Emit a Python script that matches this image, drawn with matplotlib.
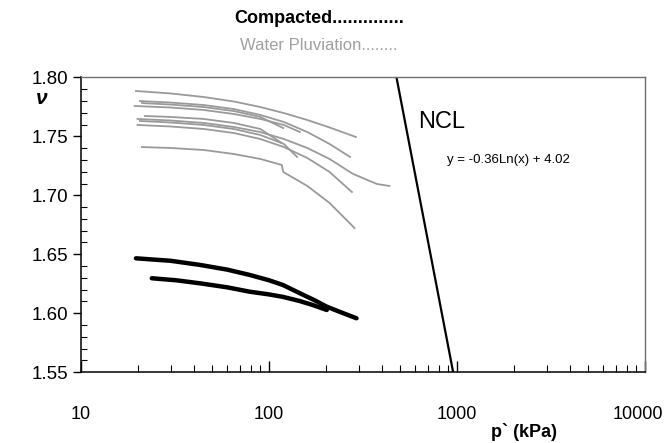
import numpy as np
import matplotlib
matplotlib.use("Agg")
import matplotlib.pyplot as plt
from matplotlib.ticker import FixedLocator, NullFormatter, LogLocator
from matplotlib.transforms import ScaledTranslation

plt.rcParams["font.family"] = ["Liberation Sans", "DejaVu Sans"]

# water-pluviated samples: p' (kPa) and specific volume
pluv_p = [
    [19.6, 30, 45, 65, 90, 120, 160, 210, 280, 290],
    [20.6, 30, 45, 65, 90, 120, 160, 210, 270],
    [19.3, 30, 45, 65, 90, 120, 146],
    [21.1, 30, 45, 65, 90, 119],
    [20, 30, 45, 65, 90, 120, 160, 210, 280, 375, 437],
    [20, 30, 45, 65, 90, 120, 160, 210, 276],
    [20.6, 30, 45, 65, 90, 120, 141],
    [21.9, 30, 45, 65, 90, 117],
    [21.1, 30, 45, 65, 90, 117, 119, 160, 210, 285],
]
pluv_v = [
    [1.7884, 1.7863, 1.7833, 1.7795, 1.7748, 1.7697, 1.7638, 1.7575, 1.7503, 1.7494],
    [1.7799, 1.7786, 1.7765, 1.7731, 1.7681, 1.7621, 1.7536, 1.7435, 1.7325],
    [1.7757, 1.7744, 1.7723, 1.7689, 1.7647, 1.7596, 1.7536],
    [1.7782, 1.7769, 1.7748, 1.7714, 1.7664, 1.7570],
    [1.7647, 1.7634, 1.7613, 1.7579, 1.7536, 1.7477, 1.7401, 1.7308, 1.7181, 1.7096, 1.7079],
    [1.7596, 1.7583, 1.7562, 1.7528, 1.7477, 1.7409, 1.7316, 1.7198, 1.7028],
    [1.7630, 1.7617, 1.7596, 1.7562, 1.7511, 1.7435, 1.7325],
    [1.7672, 1.7664, 1.7647, 1.7613, 1.7562, 1.7443],
    [1.7409, 1.7401, 1.7384, 1.7350, 1.7308, 1.7257, 1.7198, 1.7079, 1.6935, 1.6723],
]

# compacted samples
comp_p = [
    [19.6, 30, 43, 60, 79, 100, 118.6, 146, 175, 203, 240, 292],
    [23.8, 32, 43, 60, 79, 100, 118, 145, 171, 203],
]
comp_v = [
    [1.6466, 1.6445, 1.6410, 1.6370, 1.6325, 1.6280, 1.6240, 1.6170, 1.6110, 1.6056, 1.6010, 1.5958],
    [1.6297, 1.6280, 1.6254, 1.6220, 1.6183, 1.6160, 1.6140, 1.6105, 1.6070, 1.6028],
]

# normal compression line v = a*ln(p) + b
ncl_a, ncl_b = -0.36, 4.02

fig = plt.figure(figsize=(6.67, 4.43), dpi=100)
ax = fig.add_axes([0.1214, 0.1596, 0.8456, 0.6659])

for p, v in zip(pluv_p, pluv_v):
    ax.plot(p, v, color="#9a9a9a", lw=1.3, solid_joinstyle="round")
for p, v in zip(comp_p, comp_v):
    ax.plot(p, v, color="black", lw=3.2, solid_capstyle="round",
            solid_joinstyle="round")

p_ncl = np.logspace(np.log10(400), np.log10(1100), 50)
ax.plot(p_ncl, ncl_a * np.log(p_ncl) + ncl_b, color="black", lw=1.6)

ax.set_xscale("log")
ax.set_xlim(10, 10000)
ax.set_ylim(1.55, 1.80)

yt = np.arange(1.55, 1.801, 0.05)
ax.set_yticks(yt)
ax.set_yticklabels([f"{t:.2f}" for t in yt])
ax.yaxis.set_minor_locator(FixedLocator(np.arange(1.55, 1.80, 0.01)))
ax.tick_params(axis="y", which="major", direction="out", length=6,
               width=1, labelsize=13.5, pad=3, left=True, right=False)
ax.tick_params(axis="y", which="minor", direction="in", length=4,
               width=0.8, left=True, right=False)

ax.set_xticks([10, 100, 1000, 10000])
ax.set_xticklabels(["10", "100", "1000", "10000"])
ax.xaxis.set_minor_locator(LogLocator(base=10, subs=np.arange(2, 10)))
ax.xaxis.set_minor_formatter(NullFormatter())
ax.tick_params(axis="x", which="major", direction="in", length=8,
               width=1, labelsize=13, pad=24, top=False)
ax.tick_params(axis="x", which="minor", direction="in", length=5,
               width=0.8, top=False)
# keep the last label inside the canvas
last = ax.get_xticklabels()[-1]
last.set_transform(last.get_transform()
                   + ScaledTranslation(-5 / 72, 0, fig.dpi_scale_trans))

for s in ("left", "bottom"):
    ax.spines[s].set_color("black")
    ax.spines[s].set_linewidth(1.1)
for s in ("top", "right"):
    ax.spines[s].set_color("#707070")
    ax.spines[s].set_linewidth(1.0)

ax.text(620, 1.762, "NCL", fontsize=17, va="center", ha="left")
ax.text(880, 1.730, "y = -0.36Ln(x) + 4.02", fontsize=9.5,
        va="center", ha="left")

fig.text(0.478, 0.958, "Compacted" + "." * 14, fontsize=13,
         weight="bold", ha="center", va="center")
fig.text(0.478, 0.898, "Water Pluviation" + "." * 8, fontsize=12,
         color="#a0a0a0", ha="center", va="center")
fig.text(0.062, 0.778, "\u03bd", fontsize=15, weight="bold",
         style="italic", ha="center", va="center")
fig.text(0.785, 0.025, "p` (kPa)", fontsize=13, weight="bold",
         ha="center", va="center")

fig.savefig("out.png", dpi=100, facecolor="white")
